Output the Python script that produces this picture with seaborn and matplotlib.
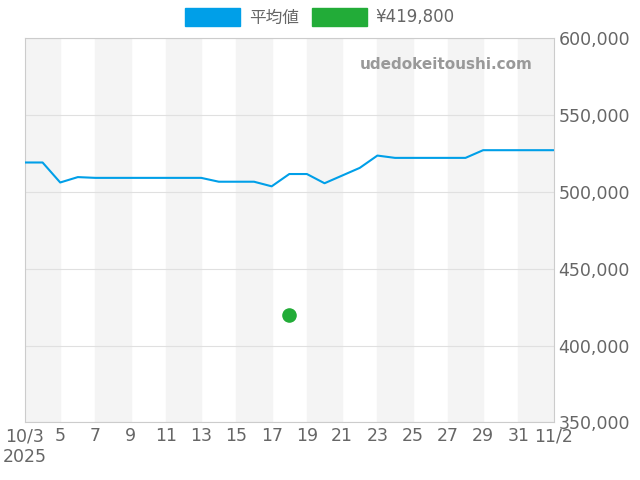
import matplotlib
matplotlib.use("Agg")
import matplotlib.pyplot as plt
import matplotlib.ticker as mticker
import seaborn as sns
import pandas as pd
from matplotlib.patches import Patch

dates = pd.date_range("2025-10-03", "2025-11-02")
avg = [519000, 519000, 506000, 509500, 509000, 509000, 509000, 509000, 509000, 509000, 509000,
       506500, 506500, 506500, 503500, 511500, 511500, 505500, 510500, 515500, 523500,
       522000, 522000, 522000, 522000, 522000, 527000, 527000, 527000, 527000, 527000]
dot_date = pd.Timestamp("2025-10-18")
dot_val = 419800

sns.set_style("white")
plt.rcParams['font.family'] = ['DejaVu Sans', 'Noto Sans CJK JP']
fig, ax = plt.subplots(figsize=(6.4, 4.8), dpi=100)
fig.subplots_adjust(left=0.039, right=0.865, top=0.921, bottom=0.12)

for i in range(0, 30, 4):
    ax.axvspan(dates[i], dates[i + 2], color="#f4f4f4", zorder=0)

df = pd.DataFrame({"date": dates, "avg": avg})
sns.lineplot(data=df, x="date", y="avg", color="#009fe8", lw=1.5, ax=ax, zorder=3)
ax.scatter([dot_date], [dot_val], color="#22ac38", s=90, zorder=4)

ax.set_xlim(dates[0], dates[-1])
ax.set_ylim(350000, 600000)
ax.yaxis.tick_right()
ax.yaxis.set_major_locator(mticker.MultipleLocator(50000))
ax.yaxis.set_major_formatter(mticker.FuncFormatter(lambda v, p: f"{int(v):,}"))
ticks = list(dates[::2])
labels = ["10/3\n2025"] + [str(d.day) for d in ticks[1:-1]] + ["11/2"]
ax.set_xticks(ticks)
ax.set_xticklabels(labels)
ax.tick_params(colors="#666666", labelsize=12.5, length=0)
ax.grid(axis="y", color="#e0e0e0", lw=0.8)
ax.set_xlabel(""); ax.set_ylabel("")
for s in ax.spines.values():
    s.set_color("#cccccc")
ax.text(0.96, 0.93, "udedokeitoushi.com", transform=ax.transAxes, ha="right", va="center",
        color="#999999", fontsize=11, fontweight="bold")
handles = [Patch(color="#009fe8", label="平均値"), Patch(color="#22ac38", label="¥419,800")]
fig.legend(handles=handles, loc="upper center", bbox_to_anchor=(0.5, 1.015), ncol=2, frameon=False,
           fontsize=12, handlelength=3.3, handleheight=1.3, labelcolor="#666666",
           columnspacing=0.8, handletextpad=0.5)
fig.savefig("out.png")
